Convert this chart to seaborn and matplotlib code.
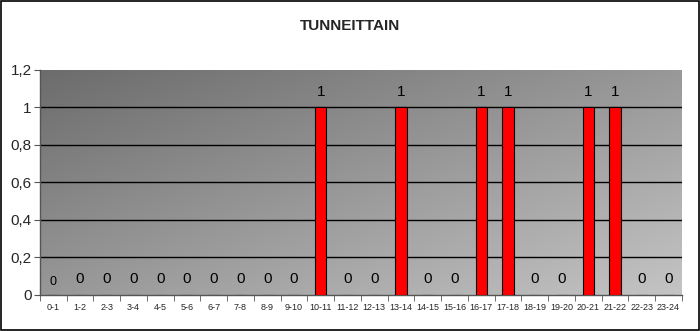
import numpy as np
import pandas as pd
import matplotlib
matplotlib.use("Agg")
import matplotlib.pyplot as plt
import seaborn as sns
from matplotlib.colors import LinearSegmentedColormap
from matplotlib.ticker import FuncFormatter

hours = ["0-1", "1-2", "2-3", "3-4", "4-5", "5-6", "6-7", "7-8", "8-9", "9-10",
         "10-11", "11-12", "12-13", "13-14", "14-15", "15-16", "16-17", "17-18",
         "18-19", "19-20", "20-21", "21-22", "22-23", "23-24"]
counts = [0, 0, 0, 0, 0, 0, 0, 0, 0, 0, 1, 0, 0, 1, 0, 0, 1, 1, 0, 0, 1, 1, 0, 0]
yticks = [0, 0.2, 0.4, 0.6, 0.8, 1.0, 1.2]

sns.set_style("white")
plt.rcParams['font.family'] = ['Liberation Sans', 'DejaVu Sans']

df = pd.DataFrame({"hour": hours, "count": counts})

fig = plt.figure(figsize=(7, 3.31), dpi=100)
ax = fig.add_axes([0.057, 0.109, 0.917, 0.68])

# gradient background
n = 200
xx, yy = np.meshgrid(np.linspace(0, 1, n), np.linspace(0, 1, n))
grad = (xx + yy) / 2.0
cmap = LinearSegmentedColormap.from_list("g", ["#6c6c6c", "#c4c4c4"])
ax.imshow(grad, cmap=cmap, extent=[0, 1, 0, 1], transform=ax.transAxes,
          aspect="auto", origin="upper", zorder=0)

sns.barplot(data=df, x="hour", y="count", ax=ax, color="#ff0000",
            edgecolor="black", linewidth=0.8, width=0.42, saturation=1,
            zorder=3)

ax.set_ylim(0, 1.2)
ax.set_xlim(-0.5, len(hours) - 0.5)
ax.set_yticks(yticks)
ax.yaxis.set_major_formatter(FuncFormatter(
    lambda v, p: ("%g" % round(v, 1)).replace(".", ",")))
for v in yticks[1:-1]:
    ax.axhline(v, color="black", linewidth=1.0, zorder=2)

for i, c in enumerate(counts):
    if i == 0:
        ax.text(i, c + 0.035, str(c), ha="center", va="bottom", fontsize=9,
                color="black", zorder=4)
    else:
        ax.text(i, c + 0.045, str(c), ha="center", va="bottom", fontsize=11,
                color="black", zorder=4)

ax.set_xlabel("")
ax.set_ylabel("")
ax.tick_params(axis="y", labelsize=11, length=4, direction="out", left=True, color="#555555", pad=2)
ax.set_xticks(np.arange(len(hours)))
ax.set_xticklabels(hours, fontsize=6.5)
ax.tick_params(axis="x", length=0, pad=6)
ax.set_xticks(np.arange(-0.5, len(hours)), minor=True)
ax.tick_params(axis="x", which="minor", length=4, direction="out", bottom=True, color="#555555")

for s in ["left", "bottom"]:
    ax.spines[s].set_color("#555555")
    ax.spines[s].set_linewidth(1.0)
ax.spines["top"].set_visible(False)
ax.spines["right"].set_visible(False)

fig.text(0.5, 0.922, "TUNNEITTAIN", ha="center", va="center",
         fontsize=11, fontweight="bold")

fig.patches.append(plt.Rectangle((0.002, 0.003), 0.996, 0.994, transform=fig.transFigure,
                                 fill=False, edgecolor="black", linewidth=1.2))

fig.savefig("out.png", dpi=100)
